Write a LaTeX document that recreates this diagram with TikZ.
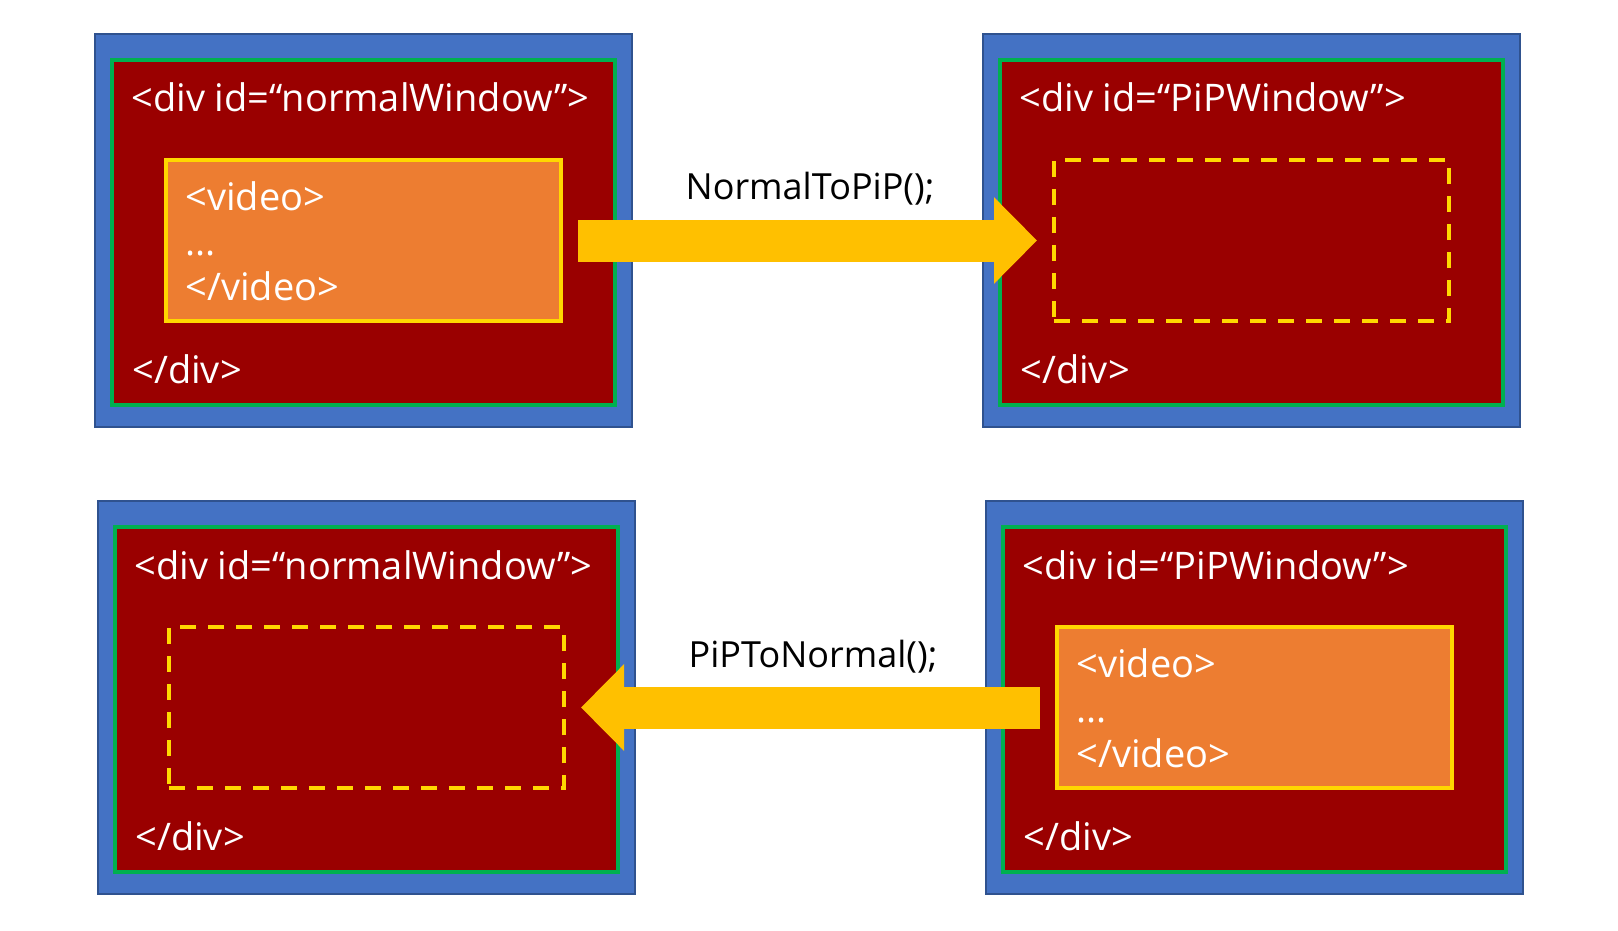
\documentclass[tikz,border=0pt]{standalone}
\usepackage{fontspec}
\setmainfont{Open Sans}
\usetikzlibrary{arrows.meta}
\definecolor{winblue}{HTML}{4472C4}
\definecolor{winedge}{HTML}{2F528F}
\definecolor{divgreen}{HTML}{00B050}
\definecolor{divred}{HTML}{9A0000}
\definecolor{vidorange}{HTML}{ED7D31}
\definecolor{videdge}{HTML}{FFD700}
\definecolor{arrowgold}{HTML}{FFC000}
\tikzset{
    window/.style = {rectangle, draw = winedge, fill = winblue, line width = 1pt,
        minimum width = 268.5pt, minimum height = 196.5pt, inner sep = 0pt},
    divbox/.style = {rectangle, draw = divgreen, fill = divred, line width = 2pt,
        minimum width = 251.5pt, minimum height = 172.5pt, inner sep = 0pt},
    videobox/.style = {rectangle, draw = videdge, fill = vidorange, line width = 2pt,
        minimum width = 197.5pt, minimum height = 80.5pt, inner sep = 0pt},
    slot/.style = {videobox, fill = none, dash pattern = on 8pt off 6pt},
    code/.style = {text = white, anchor = base west, inner sep = 0pt, align = left,
        font = \fontsize{19}{22.5}\selectfont},
    call/.style = {text = black, anchor = base, inner sep = 0pt,
        font = \fontsize{18}{21}\selectfont},
    move/.style = {draw = arrowgold, line width = 21pt,
        -{Triangle[length = 21.5pt, width = 42pt]},
        shorten < = 7.5pt, shorten > = 7.5pt}
}

\begin{document}
\begin{tikzpicture}[x = 0.5pt, y = -0.5pt]
    \useasboundingbox (0, 0) rectangle (1618, 931);

    \node[window] (w1) at (363.5, 230.5) {};
    \node[window] (w2) at (1251.5, 230.5) {};
    \node[window] (w3) at (366.5, 697.5) {};
    \node[window] (w4) at (1254.5, 697.5) {};

    \node[divbox] (normal1) at (363.5, 232.5) {};
    \node[divbox] (pip1) at (1251.5, 232.5) {};
    \node[divbox] (normal2) at (366.5, 699.5) {};
    \node[divbox] (pip2) at (1254.5, 699.5) {};

    \node[videobox] (video1) at (363.5, 240.5) {};
    \node[slot] (slot1) at (1251.5, 240.5) {};
    \node[slot] (slot2) at (366.5, 707.5) {};
    \node[videobox] (video2) at (1254.5, 707.5) {};

    \node[code] (open1) at (131, 112) {<div id=“normalWindow”>};
    \node[code] (close1) at (132, 383) {</div>};
    \node[code] (open2) at (1019, 112) {<div id=“PiPWindow”>};
    \node[code] (close2) at (1020, 383) {</div>};
    \node[code] (open3) at (134, 579) {<div id=“normalWindow”>};
    \node[code] (close3) at (135, 850) {</div>};
    \node[code] (open4) at (1022, 579) {<div id=“PiPWindow”>};
    \node[code] (close4) at (1023, 850) {</div>};

    % base of a multi-line node is its last line
    \node[code] (tag1) at (185, 300) {<video>\\...\\</video>};
    \node[code] (tag2) at (1076, 767) {<video>\\...\\</video>};

    \draw[move] (video1) -- (slot1);
    \draw[move] (video2) -- (slot2);

    \node[call] (toPip) at (810, 199) {NormalToPiP();};
    \node[call] (toNormal) at (813, 667) {PiPToNormal();};
\end{tikzpicture}
\end{document}
